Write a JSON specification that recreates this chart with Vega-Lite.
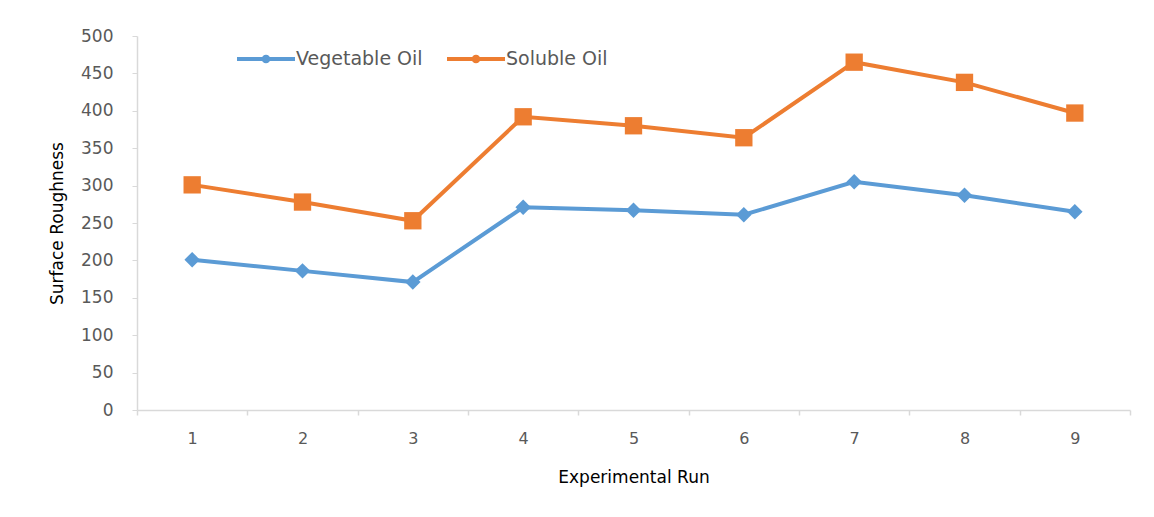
{
  "$schema": "https://vega.github.io/schema/vega-lite/v6.json",
  "width": 993,
  "height": 374,
  "autosize": {"type": "none"},
  "padding": {"left": 137, "top": 36, "right": 24, "bottom": 107},
  "background": "white",
  "config": {
    "view": {"stroke": null},
    "font": "DejaVu Sans"
  },
  "data": {
    "values": [
      {"run": "1", "series": "Vegetable Oil", "value": 201},
      {"run": "2", "series": "Vegetable Oil", "value": 186},
      {"run": "3", "series": "Vegetable Oil", "value": 171},
      {"run": "4", "series": "Vegetable Oil", "value": 271},
      {"run": "5", "series": "Vegetable Oil", "value": 267},
      {"run": "6", "series": "Vegetable Oil", "value": 261},
      {"run": "7", "series": "Vegetable Oil", "value": 305},
      {"run": "8", "series": "Vegetable Oil", "value": 287},
      {"run": "9", "series": "Vegetable Oil", "value": 265},
      {"run": "1", "series": "Soluble Oil", "value": 301},
      {"run": "2", "series": "Soluble Oil", "value": 278},
      {"run": "3", "series": "Soluble Oil", "value": 253},
      {"run": "4", "series": "Soluble Oil", "value": 392},
      {"run": "5", "series": "Soluble Oil", "value": 380},
      {"run": "6", "series": "Soluble Oil", "value": 364},
      {"run": "7", "series": "Soluble Oil", "value": 465},
      {"run": "8", "series": "Soluble Oil", "value": 438},
      {"run": "9", "series": "Soluble Oil", "value": 397}
    ]
  },
  "encoding": {
    "x": {
      "field": "run",
      "type": "ordinal",
      "scale": {"type": "band", "paddingInner": 0, "paddingOuter": 0},
      "axis": {
        "title": "Experimental Run",
        "labelAngle": 0,
        "tickBand": "extent",
        "domainColor": "#D9D9D9",
        "domainWidth": 1.5,
        "tickColor": "#D9D9D9",
        "tickWidth": 1.5,
        "tickSize": 5,
        "labelPadding": 15,
        "labelFontSize": 16,
        "labelColor": "#595959",
        "titleFontSize": 17,
        "titleFontWeight": "normal",
        "titleColor": "#000000",
        "titlePadding": 23
      }
    },
    "y": {
      "field": "value",
      "type": "quantitative",
      "scale": {"domain": [0, 500], "nice": false},
      "axis": {
        "title": "Surface Roughness",
        "values": [0, 50, 100, 150, 200, 250, 300, 350, 400, 450, 500],
        "grid": false,
        "domainColor": "#D9D9D9",
        "domainWidth": 1.5,
        "tickColor": "#D9D9D9",
        "tickWidth": 1,
        "tickSize": 5,
        "labelPadding": 19,
        "labelFontSize": 17,
        "labelColor": "#595959",
        "titleFontSize": 17,
        "titleFontWeight": "normal",
        "titleColor": "#000000",
        "titlePadding": 14
      }
    },
    "color": {
      "field": "series",
      "type": "nominal",
      "scale": {"domain": ["Vegetable Oil", "Soluble Oil"], "range": ["#5B9BD5", "#ED7D31"]},
      "legend": {
        "title": null,
        "orient": "none",
        "direction": "horizontal",
        "legendX": 100,
        "legendY": -6,
        "symbolType": "M-1,-0.07L1,-0.07L1,0.07L-1,0.07Z M0.15,0A0.15,0.15,0,1,1,-0.15,0A0.15,0.15,0,1,1,0.15,0Z",
        "symbolSize": 3364,
        "symbolStrokeWidth": 0,
        "symbolOpacity": 1,
        "labelFontSize": 19,
        "labelColor": "#595959",
        "labelOffset": 1,
        "columnPadding": 24
      }
    }
  },
  "layer": [
    {
      "mark": {"type": "line", "strokeWidth": 4}
    },
    {
      "transform": [{"filter": "datum.series === 'Vegetable Oil'"}],
      "mark": {"type": "point", "filled": true, "opacity": 1, "shape": "diamond", "size": 240}
    },
    {
      "transform": [{"filter": "datum.series === 'Soluble Oil'"}],
      "mark": {"type": "point", "filled": true, "opacity": 1, "shape": "square", "size": 300}
    }
  ]
}
